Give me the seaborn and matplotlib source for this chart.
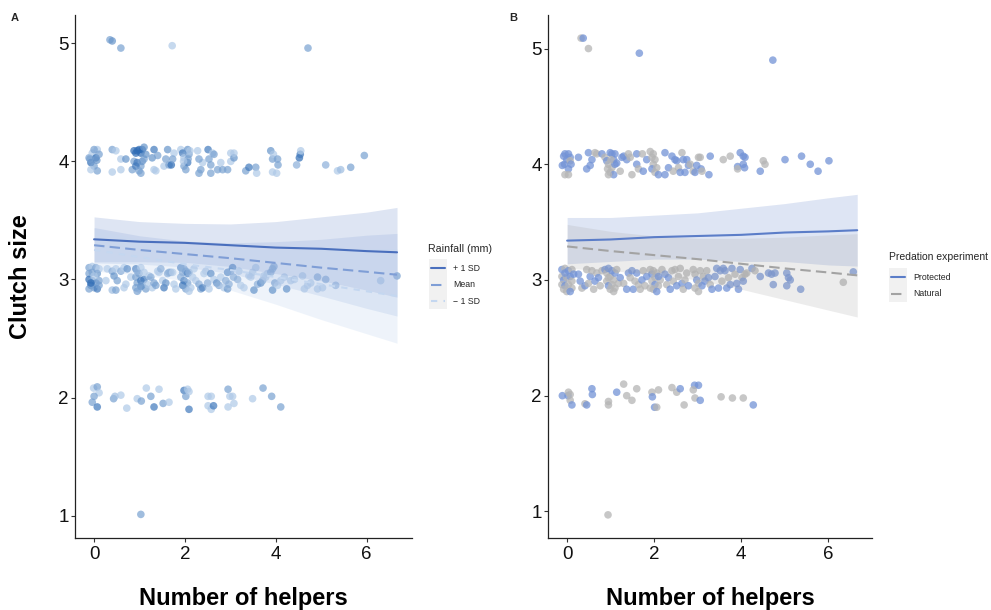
import numpy as np
import pandas as pd
import matplotlib
matplotlib.use("Agg")
import matplotlib.pyplot as plt
import seaborn as sns
from matplotlib.colors import LinearSegmentedColormap
from matplotlib.lines import Line2D
from matplotlib.patches import Rectangle
from matplotlib.legend_handler import HandlerBase

# ================= Panel A: jittered observations =================
# helpers, clutch size, rainfall shade (0 = low rainfall / light, 1 = high / dark)
a5_helpers = [0.35, 0.40, 0.59, 1.72, 4.71]
a5_clutch = [5.03, 5.02, 4.96, 4.98, 4.96]
a5_rain = [0.5, 0.6, 0.5, 0.2, 0.5]

a4_helpers = [
    -0.11, -0.07, -0.04, 0.00, 0.04, 0.07, 0.07, -0.07, 0.00, 0.11,
    0.06, -0.09, 0.40, 0.48, 0.40, 0.59, 0.70, 0.59, 0.84, 0.88,
    0.92, 0.95, 0.99, 1.03, 1.06, 1.10, 0.88, 0.95, 1.03, 1.06,
    0.92, 0.99, 1.10, 1.03, 1.14, 1.28, 1.32, 1.32, 1.36, 1.40,
    1.54, 1.58, 1.62, 1.65, 1.70, 1.76, 1.73, 1.91, 1.95, 1.98,
    2.02, 1.98, 2.06, 2.09, 2.06, 2.11, 2.07, 1.97, 2.28, 2.31,
    2.35, 2.39, 2.31, 2.51, 2.53, 2.57, 2.61, 2.57, 2.64, 2.72,
    2.79, 2.83, 2.94, 3.01, 3.01, 3.08, 3.08, 3.34, 3.41, 3.56,
    3.58, 3.89, 3.93, 3.95, 4.04, 4.05, 3.93, 4.02, 4.46, 4.52,
    4.54, 4.55, 5.10, 5.36, 5.43, 5.65, 5.95,
]
a4_clutch = [
    4.03, 3.99, 4.07, 3.96, 4.03, 4.10, 3.92, 3.93, 4.10, 4.06,
    4.01, 4.02, 4.10, 4.09, 3.91, 4.02, 4.02, 3.93, 3.93, 4.09,
    4.07, 4.09, 4.10, 4.07, 4.10, 4.12, 4.00, 3.99, 3.96, 4.00,
    3.96, 3.92, 4.02, 3.90, 4.06, 4.03, 4.10, 3.93, 3.92, 4.05,
    3.96, 4.02, 4.10, 3.97, 3.97, 4.07, 4.02, 4.10, 4.07, 3.96,
    3.93, 4.03, 4.10, 4.06, 3.99, 4.09, 4.02, 4.00, 4.09, 3.90,
    3.93, 3.99, 4.02, 4.10, 4.02, 3.97, 4.07, 3.90, 4.06, 3.93,
    3.99, 3.93, 3.93, 4.00, 4.07, 4.03, 4.07, 3.92, 3.95, 3.95,
    3.90, 4.09, 4.02, 4.06, 4.02, 3.97, 3.91, 3.90, 3.97, 4.03,
    4.06, 4.09, 3.97, 3.92, 3.93, 3.95, 4.05,
]
a4_rain = [
    0.5, 0.9, 0.2, 0.5, 0.9, 0.2, 0.5, 0.2, 0.5, 0.5,
    0.6, 0.5, 0.5, 0.2, 0.2, 0.2, 0.6, 0.2, 0.5, 0.9,
    0.9, 0.9, 0.9, 0.9, 0.9, 0.6, 0.5, 0.8, 0.5, 0.6,
    0.8, 0.5, 0.5, 0.5, 0.6, 0.6, 0.8, 0.2, 0.2, 0.5,
    0.2, 0.5, 0.6, 0.5, 0.9, 0.2, 0.5, 0.2, 0.8, 0.5,
    0.5, 0.2, 0.6, 0.5, 0.8, 0.2, 0.5, 0.2, 0.2, 0.5,
    0.5, 0.2, 0.5, 0.8, 0.5, 0.5, 0.2, 0.5, 0.5, 0.5,
    0.2, 0.5, 0.5, 0.2, 0.2, 0.6, 0.2, 0.5, 0.8, 0.5,
    0.2, 0.6, 0.5, 0.2, 0.5, 0.5, 0.2, 0.2, 0.4, 0.9,
    0.8, 0.2, 0.4, 0.2, 0.3, 0.5, 0.5,
]

a3_helpers = [
    -0.11, -0.04, 0.04, 0.11, -0.11, -0.04, 0.07, -0.11, -0.04, 0.04,
    0.11, -0.07, 0.00, 0.07, -0.11, 0.11, -0.07, 0.00, 0.26, 0.29,
    0.40, 0.44, 0.48, 0.40, 0.48, 0.51, 0.59, 0.66, 0.70, 0.66,
    0.73, 0.81, 0.92, 0.95, 1.03, 0.99, 0.92, 0.95, 1.03, 1.10,
    1.06, 0.92, 0.99, 1.14, 1.17, 1.10, 1.21, 1.03, 0.95, 1.25,
    1.28, 1.32, 1.36, 1.40, 1.43, 1.47, 1.51, 1.54, 1.58, 1.62,
    1.65, 1.69, 1.73, 1.76, 1.80, 1.91, 1.95, 1.98, 2.02, 2.06,
    2.09, 1.91, 1.98, 2.06, 1.95, 2.02, 2.13, 2.17, 2.20, 2.09,
    2.24, 2.31, 2.35, 2.39, 2.42, 2.46, 2.50, 2.53, 2.57, 2.64,
    2.70, 2.75, 2.79, 2.86, 2.90, 2.94, 2.97, 3.01, 3.05, 3.07,
    2.94, 3.16, 3.19, 3.23, 3.30, 3.41, 3.45, 3.49, 3.52, 3.56,
    3.60, 3.67, 3.71, 3.74, 3.78, 3.82, 3.89, 3.93, 3.96, 3.93,
    3.98, 4.04, 4.11, 4.19, 4.24, 4.33, 4.41, 4.59, 4.63, 4.70,
    4.77, 4.92, 4.92, 5.03, 5.10, 5.32, 6.31, 6.67,
]
a3_clutch = [
    3.10, 3.11, 3.10, 3.09, 3.05, 3.06, 3.05, 3.00, 2.99, 2.97,
    2.99, 2.95, 2.93, 2.92, 2.92, 2.95, 2.97, 3.03, 2.99, 3.09,
    3.07, 3.03, 3.09, 2.91, 2.91, 2.99, 3.07, 3.10, 2.96, 2.93,
    3.09, 3.02, 3.09, 3.07, 3.10, 3.05, 3.02, 2.97, 2.99, 3.00,
    2.95, 2.93, 2.92, 2.92, 2.96, 3.06, 3.03, 2.94, 2.90, 3.02,
    2.93, 2.97, 2.95, 3.07, 3.06, 3.09, 2.99, 2.93, 2.97, 3.05,
    3.06, 3.06, 3.06, 2.96, 2.92, 3.10, 3.06, 3.09, 3.07, 3.05,
    3.06, 3.02, 2.99, 2.97, 2.95, 2.92, 2.93, 3.02, 3.09, 2.90,
    2.99, 2.96, 2.92, 2.93, 3.05, 3.07, 2.97, 2.92, 3.05, 3.00,
    2.97, 2.95, 3.02, 2.93, 2.99, 3.06, 2.96, 3.07, 3.10, 3.02,
    2.92, 3.00, 3.07, 2.95, 2.93, 3.03, 3.02, 3.06, 2.91, 3.10,
    2.96, 2.97, 2.99, 3.03, 3.02, 3.05, 3.06, 3.09, 3.11, 2.91,
    2.97, 2.95, 2.99, 3.02, 2.92, 2.99, 3.00, 3.03, 2.92, 2.95,
    2.97, 3.02, 2.92, 2.93, 3.00, 2.95, 2.99, 3.03,
]
a3_rain = [
    0.5, 0.2, 0.5, 0.2, 0.5, 0.5, 0.6, 0.9, 0.5, 0.6,
    0.5, 0.8, 0.5, 0.8, 0.5, 0.5, 0.9, 0.2, 0.2, 0.2,
    0.5, 0.6, 0.2, 0.3, 0.5, 0.5, 0.5, 0.2, 0.2, 0.2,
    0.8, 0.2, 0.9, 0.5, 0.2, 0.5, 0.5, 0.5, 0.8, 0.8,
    0.5, 0.5, 0.2, 0.5, 0.2, 0.2, 0.2, 0.6, 0.5, 0.5,
    0.2, 0.5, 0.5, 0.2, 0.2, 0.5, 0.2, 0.8, 0.6, 0.5,
    0.5, 0.5, 0.2, 0.2, 0.2, 0.8, 0.5, 0.5, 0.6, 0.9,
    0.5, 0.5, 0.8, 0.5, 0.8, 0.5, 0.2, 0.2, 0.2, 0.2,
    0.2, 0.5, 0.5, 0.7, 0.2, 0.2, 0.5, 0.2, 0.8, 0.2,
    0.8, 0.5, 0.2, 0.2, 0.5, 0.8, 0.5, 0.5, 0.9, 0.5,
    0.6, 0.5, 0.2, 0.2, 0.2, 0.2, 0.2, 0.2, 0.8, 0.2,
    0.5, 0.8, 0.5, 0.2, 0.2, 0.2, 0.5, 0.5, 0.5, 0.8,
    0.6, 0.2, 0.2, 0.2, 0.8, 0.2, 0.2, 0.2, 0.2, 0.2,
    0.2, 0.5, 0.2, 0.2, 0.5, 0.4, 0.2, 0.5,
]

a2_helpers = [
    -0.01, 0.07, 0.11, 0.00, -0.04, 0.07, 0.43, 0.46, 0.59, 0.72,
    0.95, 1.04, 1.15, 1.25, 1.32, 1.43, 1.52, 1.65, 1.98, 2.02,
    2.06, 2.09, 2.09, 2.51, 2.58, 2.51, 2.58, 2.63, 2.95, 2.99,
    3.05, 3.08, 2.95, 3.49, 3.72, 3.91, 4.11,
]
a2_clutch = [
    2.08, 2.09, 2.04, 2.01, 1.96, 1.92, 1.99, 2.01, 2.02, 1.91,
    1.99, 1.97, 2.08, 2.01, 1.92, 2.07, 1.95, 1.96, 2.06, 2.01,
    2.07, 2.05, 1.90, 2.01, 2.01, 1.93, 1.90, 1.93, 2.07, 2.01,
    2.01, 1.95, 1.92, 1.99, 2.08, 2.01, 1.92,
]
a2_rain = [
    0.2, 0.5, 0.2, 0.5, 0.5, 0.8, 0.5, 0.3, 0.2, 0.2,
    0.2, 0.5, 0.2, 0.5, 0.8, 0.2, 0.5, 0.2, 0.8, 0.5,
    0.2, 0.2, 0.8, 0.2, 0.2, 0.2, 0.2, 0.8, 0.5, 0.2,
    0.2, 0.2, 0.2, 0.2, 0.5, 0.5, 0.5,
]

a1_helpers = [1.03]
a1_clutch = [1.01]
a1_rain = [0.5]

# Panel A model fits (rainfall at +1 SD, mean, -1 SD)
fit_x = [0, 1, 2, 3, 4, 5, 6, 6.67]
a_levels = ["+ 1 SD", "Mean", "\u2212 1 SD"]
a_fit = {
    "+ 1 SD": [3.34, 3.32, 3.31, 3.29, 3.27, 3.26, 3.24, 3.23],
    "Mean": [3.29, 3.25, 3.215, 3.18, 3.14, 3.10, 3.065, 3.04],
    "\u2212 1 SD": [3.25, 3.19, 3.13, 3.08, 3.02, 2.96, 2.90, 2.86],
}
a_upper = {
    "+ 1 SD": [3.53, 3.49, 3.475, 3.47, 3.49, 3.53, 3.57, 3.61],
    "Mean": [3.44, 3.37, 3.325, 3.31, 3.32, 3.34, 3.375, 3.39],
    "\u2212 1 SD": [3.43, 3.34, 3.27, 3.25, 3.25, 3.26, 3.26, 3.26],
}
a_lower = {
    "+ 1 SD": [3.15, 3.15, 3.145, 3.11, 3.05, 2.99, 2.91, 2.85],
    "Mean": [3.14, 3.13, 3.105, 3.05, 2.96, 2.86, 2.755, 2.69],
    "\u2212 1 SD": [3.07, 3.04, 2.99, 2.91, 2.79, 2.66, 2.54, 2.46],
}

# ================= Panel B: jittered observations =================
P, N = "Protected", "Natural"
b5_helpers = [0.32, 0.37, 0.49, 1.66, 4.73]
b5_clutch = [5.09, 5.09, 5.00, 4.96, 4.90]
b5_group = [N, P, N, P, P]

b4_helpers = [
    -0.08, -0.05, 0.03, 0.07, -0.01, -0.06, -0.11, 0.03, -0.05, 0.03,
    0.07, 0.09, 0.26, 0.45, 0.49, 0.53, 0.57, 0.64, 0.68, 0.80,
    0.87, 0.91, 0.95, 0.99, 1.03, 1.07, 0.93, 0.99, 1.03, 1.07,
    1.10, 1.10, 0.95, 1.01, 1.14, 1.22, 1.26, 1.30, 1.37, 1.41,
    1.45, 1.49, 1.60, 1.60, 1.64, 1.73, 1.75, 1.83, 1.91, 1.95,
    1.98, 2.02, 1.95, 2.02, 2.06, 2.10, 1.98, 2.25, 2.25, 2.33,
    2.41, 2.44, 2.48, 2.52, 2.56, 2.60, 2.64, 2.67, 2.75, 2.71,
    2.79, 2.83, 2.90, 2.94, 2.98, 3.02, 3.06, 3.08, 3.10, 3.29,
    3.26, 3.59, 3.75, 3.98, 4.05, 4.09, 3.92, 3.92, 4.05, 4.08,
    4.44, 4.51, 4.55, 5.01, 5.39, 5.59, 5.77, 6.02,
]
b4_clutch = [
    4.07, 4.09, 4.09, 4.06, 4.04, 4.00, 3.99, 3.96, 3.91, 3.91,
    4.03, 4.00, 4.06, 3.96, 4.10, 3.99, 4.04, 4.10, 4.09, 4.09,
    4.06, 4.03, 4.00, 4.10, 4.09, 4.04, 3.96, 3.93, 3.97, 3.91,
    4.09, 4.00, 3.91, 4.04, 4.01, 3.94, 4.06, 4.07, 4.04, 4.09,
    4.06, 3.91, 4.09, 4.00, 3.96, 4.09, 3.94, 4.04, 4.11, 4.06,
    4.00, 4.04, 3.96, 3.93, 3.97, 3.91, 4.09, 3.91, 4.10, 3.97,
    4.07, 3.94, 4.04, 4.03, 3.97, 3.93, 4.10, 4.04, 4.04, 3.93,
    3.99, 4.00, 3.94, 3.93, 3.99, 4.06, 4.06, 3.96, 3.94, 4.07,
    3.91, 4.04, 4.07, 4.10, 4.07, 4.06, 3.98, 3.96, 4.00, 3.97,
    3.94, 4.03, 4.00, 4.04, 4.07, 4.00, 3.94, 4.03,
]
b4_group = [
    P, P, P, P, P, P, P, P, N, N,
    N, P, P, P, P, P, P, N, N, P,
    N, P, N, P, P, P, N, N, N, P,
    P, P, N, N, P, N, P, P, P, N,
    N, N, P, P, N, N, P, P, N, N,
    N, N, P, N, N, P, N, P, P, P,
    P, N, P, P, N, P, N, P, P, P,
    P, N, N, P, P, N, N, P, N, P,
    P, N, N, P, P, P, P, N, P, P,
    P, N, N, P, P, P, P, P,
]

b3_helpers = [
    -0.12, -0.05, 0.03, 0.11, -0.12, -0.08, -0.01, 0.07, 0.11, -0.12,
    -0.05, 0.03, 0.11, -0.08, -0.01, 0.07, 0.15, -0.05, 0.26, 0.30,
    0.34, 0.41, 0.45, 0.49, 0.53, 0.57, 0.61, 0.64, 0.68, 0.72,
    0.76, 0.80, 0.87, 0.91, 0.95, 0.99, 1.03, 1.07, 1.10, 1.14,
    0.91, 0.95, 0.99, 1.03, 1.10, 1.18, 1.22, 1.07, 0.95, 1.30,
    1.37, 1.41, 1.45, 1.49, 1.52, 1.56, 1.60, 1.64, 1.68, 1.72,
    1.75, 1.79, 1.83, 1.91, 1.95, 1.98, 2.02, 2.06, 1.95, 2.02,
    2.10, 1.98, 2.06, 2.14, 2.18, 1.91, 2.10, 2.25, 2.29, 2.33,
    2.37, 2.41, 2.44, 2.48, 2.52, 2.56, 2.60, 2.64, 2.67, 2.71,
    2.75, 2.79, 2.90, 2.94, 2.98, 3.02, 3.06, 3.10, 3.13, 2.94,
    3.02, 3.17, 3.21, 3.25, 3.29, 3.33, 3.40, 3.44, 3.48, 3.52,
    3.56, 3.59, 3.63, 3.67, 3.71, 3.75, 3.79, 3.86, 3.90, 3.94,
    3.98, 4.02, 4.05, 4.09, 4.13, 4.25, 4.32, 4.44, 4.63, 4.70,
    4.74, 4.78, 5.05, 5.09, 5.05, 5.13, 5.37, 6.35, 6.58,
]
b3_clutch = [
    3.09, 3.10, 3.08, 3.09, 3.03, 3.00, 3.02, 3.03, 2.99, 2.96,
    2.95, 2.96, 2.93, 2.92, 2.90, 2.90, 3.05, 3.06, 3.05, 2.99,
    2.93, 2.95, 3.09, 2.97, 3.03, 3.08, 2.92, 2.99, 3.06, 3.02,
    2.95, 3.08, 3.09, 3.06, 3.10, 3.03, 3.08, 3.00, 3.06, 3.09,
    2.99, 2.95, 2.92, 2.96, 2.93, 2.97, 3.02, 2.90, 3.02, 2.97,
    2.92, 3.06, 3.02, 3.08, 2.92, 2.99, 3.06, 2.96, 2.92, 3.00,
    3.08, 2.95, 3.03, 3.09, 3.05, 3.08, 3.02, 3.06, 2.99, 2.96,
    2.95, 2.92, 2.90, 3.00, 3.09, 2.93, 3.03, 3.05, 2.96, 3.02,
    2.92, 3.08, 2.99, 3.09, 2.95, 3.03, 3.10, 2.97, 2.92, 3.00,
    3.06, 2.95, 3.09, 3.05, 3.00, 2.97, 3.08, 2.95, 3.03, 2.93,
    2.90, 2.99, 3.08, 3.02, 2.96, 2.92, 3.03, 3.10, 2.93, 3.08,
    2.99, 3.10, 3.08, 2.93, 3.02, 2.96, 3.10, 3.05, 2.97, 2.92,
    3.09, 3.02, 2.99, 3.05, 3.06, 3.10, 3.08, 3.03, 3.06, 3.05,
    2.96, 3.06, 3.06, 3.02, 2.95, 3.00, 2.92, 2.98, 3.07,
]
b3_group = [
    P, N, P, N, N, P, N, P, N, N,
    P, N, N, N, N, P, P, P, P, P,
    N, P, N, N, P, N, N, P, N, P,
    N, N, P, N, P, N, P, N, P, N,
    N, P, N, N, N, N, P, N, N, N,
    P, P, N, P, P, N, P, N, N, P,
    N, N, P, N, P, N, N, N, N, P,
    N, N, P, N, N, N, P, P, N, P,
    P, N, N, N, P, N, N, P, N, N,
    N, P, N, N, P, N, N, P, N, N,
    N, P, N, P, N, P, P, P, P, P,
    N, P, P, P, N, P, P, N, P, P,
    P, N, P, N, N, P, N, P, P, P,
    P, P, P, P, P, P, P, N, P,
]

b2_helpers = [
    -0.11, 0.02, 0.03, 0.07, 0.07, 0.11, 0.41, 0.45, 0.57, 0.58,
    0.95, 0.95, 1.14, 1.30, 1.37, 1.49, 1.60, 1.95, 1.96, 2.01,
    2.06, 2.10, 2.41, 2.52, 2.60, 2.69, 2.93, 3.02, 2.90, 2.94,
    3.06, 3.54, 3.80, 4.05, 4.28,
]
b2_clutch = [
    2.00, 2.00, 2.03, 2.01, 1.96, 1.92, 1.93, 1.92, 2.06, 2.01,
    1.95, 1.92, 2.03, 2.10, 2.00, 1.96, 2.06, 2.03, 1.99, 1.90,
    1.90, 2.05, 2.07, 2.03, 2.06, 1.92, 2.09, 2.09, 2.05, 1.98,
    1.96, 1.99, 1.98, 1.98, 1.92,
]
b2_group = [
    P, P, N, N, N, P, N, P, P, P,
    N, N, P, N, N, N, N, N, P, P,
    N, N, N, N, P, N, P, P, N, N,
    P, N, N, N, P,
]

b1_helpers = [0.94]
b1_clutch = [0.97]
b1_group = [N]

# Panel B model fits (predation treatment)
b_levels = ["Protected", "Natural"]
b_fit = {
    "Protected": [3.34, 3.35, 3.37, 3.38, 3.39, 3.41, 3.42, 3.43],
    "Natural": [3.29, 3.25, 3.215, 3.18, 3.14, 3.10, 3.065, 3.04],
}
b_upper = {
    "Protected": [3.54, 3.54, 3.56, 3.58, 3.62, 3.66, 3.71, 3.74],
    "Natural": [3.48, 3.42, 3.38, 3.36, 3.36, 3.37, 3.39, 3.40],
}
b_lower = {
    "Protected": [3.14, 3.16, 3.18, 3.18, 3.16, 3.16, 3.13, 3.12],
    "Natural": [3.10, 3.08, 3.05, 3.00, 2.92, 2.83, 2.74, 2.68],
}

x_ticks = [0, 2, 4, 6]
y_ticks = [1, 2, 3, 4, 5]

# ================= styling =================
sns.set_theme(style="white")
plt.rcParams["font.family"] = ["Liberation Sans", "DejaVu Sans"]

a_line_col = {"+ 1 SD": "#4a6fbd", "Mean": "#7f9ed6", "\u2212 1 SD": "#c4d7f0"}
a_fill_alpha = {"+ 1 SD": 0.18, "Mean": 0.2, "\u2212 1 SD": 0.28}
a_dash = {"+ 1 SD": "-", "Mean": (0, (5, 2.5)), "\u2212 1 SD": (0, (3, 3))}
b_line_col = {"Protected": "#5b7dc8", "Natural": "#a3a3a3"}
b_pt_col = {"Protected": "#7393d6", "Natural": "#b5b5b5"}
b_dash = {"Protected": "-", "Natural": (0, (5, 2.5))}
rain_cmap = LinearSegmentedColormap.from_list("rain", ["#d3e3f5", "#1d5fae"])
key_bg = "#f1f1f1"

dfA = pd.concat([
    pd.DataFrame({"helpers": h, "clutch": c, "rain": r})
    for h, c, r in [(a5_helpers, a5_clutch, a5_rain), (a4_helpers, a4_clutch, a4_rain),
                    (a3_helpers, a3_clutch, a3_rain), (a2_helpers, a2_clutch, a2_rain),
                    (a1_helpers, a1_clutch, a1_rain)]
], ignore_index=True)
dfB = pd.concat([
    pd.DataFrame({"helpers": h, "clutch": c, "group": g})
    for h, c, g in [(b5_helpers, b5_clutch, b5_group), (b4_helpers, b4_clutch, b4_group),
                    (b3_helpers, b3_clutch, b3_group), (b2_helpers, b2_clutch, b2_group),
                    (b1_helpers, b1_clutch, b1_group)]
], ignore_index=True)

fig = plt.figure(figsize=(9.91, 6.10), dpi=100)
axA = fig.add_axes([75 / 991, 1 - 538 / 610, 337 / 991, 523 / 610])
axB = fig.add_axes([548 / 991, 1 - 538 / 610, 324 / 991, 523 / 610])

sns.scatterplot(data=dfA, x="helpers", y="clutch", hue="rain", palette=rain_cmap,
                hue_norm=(0, 1), s=30, alpha=0.7, linewidth=0, legend=False,
                ax=axA, zorder=2)
for lev in a_levels:
    axA.fill_between(fit_x, a_lower[lev], a_upper[lev], color=a_line_col[lev],
                     alpha=a_fill_alpha[lev], linewidth=0, zorder=3)
for lev in a_levels:
    sns.lineplot(x=fit_x, y=a_fit[lev], ax=axA, color=a_line_col[lev], lw=1.5,
                 linestyle=a_dash[lev], zorder=4)

sns.scatterplot(data=dfB, x="helpers", y="clutch", hue="group", palette=b_pt_col,
                s=30, alpha=0.75, linewidth=0, legend=False, ax=axB, zorder=2)
for lev in b_levels:
    axB.fill_between(fit_x, b_lower[lev], b_upper[lev], color=b_line_col[lev],
                     alpha=0.2, linewidth=0, zorder=3)
for lev in b_levels:
    sns.lineplot(x=fit_x, y=b_fit[lev], ax=axB, color=b_line_col[lev], lw=1.5,
                 linestyle=b_dash[lev], zorder=4)

for ax, xl, yl in [(axA, (-0.42, 7.0), (0.81, 5.24)), (axB, (-0.44, 7.01), (0.77, 5.29))]:
    ax.set_xlim(*xl)
    ax.set_ylim(*yl)
    ax.set_xticks(x_ticks)
    ax.set_yticks(y_ticks)
    ax.set_xlabel("")
    ax.set_ylabel("")
    for s in ["top", "right"]:
        ax.spines[s].set_visible(False)
    for s in ["left", "bottom"]:
        ax.spines[s].set_color("#222222")
        ax.spines[s].set_linewidth(0.9)
    ax.tick_params(axis="both", which="both", length=3, width=0.8, color="#333333",
                   labelsize=13.5, labelcolor="#111111", direction="out",
                   bottom=True, left=True)
    ax.tick_params(axis="x", pad=3)
    ax.tick_params(axis="y", pad=1.5)
    ax.grid(False)

# axis titles
fig.text(21 / 991, 1 - 277 / 610, "Clutch size", rotation=90, ha="center", va="center",
         fontsize=17, fontweight="bold", color="black")
fig.text(243 / 991, 1 - 605 / 610, "Number of helpers", ha="center", va="baseline",
         fontsize=17, fontweight="bold", color="black")
fig.text(710 / 991, 1 - 605 / 610, "Number of helpers", ha="center", va="baseline",
         fontsize=17, fontweight="bold", color="black")

# panel tags
fig.text(11 / 991, 1 - 18 / 610, "A", ha="left", va="center", fontsize=8, fontweight="bold")
fig.text(509 / 991, 1 - 18 / 610, "B", ha="left", va="center", fontsize=8, fontweight="bold")


# ---- legends with ggplot-like grey key boxes ----
class LegendKey:
    def __init__(self, color, ls):
        self.color = color
        self.ls = ls


class KeyHandler(HandlerBase):
    def create_artists(self, legend, orig_handle, xdescent, ydescent, width, height,
                       fontsize, trans):
        yc = 0.33 * fontsize
        rect = Rectangle((-xdescent, yc - height / 2), width, height + 0.3,
                         facecolor=key_bg, edgecolor="none", transform=trans)
        line = Line2D([-xdescent + 0.1 * width, -xdescent + 0.9 * width], [yc, yc],
                      color=orig_handle.color, lw=1.5, linestyle=orig_handle.ls,
                      transform=trans)
        return [rect, line]


leg_kw = dict(loc="upper left", frameon=False, fontsize=6.3,
              handlelength=2.0, handleheight=2.53, labelspacing=0.0, handletextpad=0.75,
              borderpad=0, borderaxespad=0, handler_map={LegendKey: KeyHandler()})

fig.text(428 / 991, 1 - 249 / 610, "Rainfall (mm)", ha="left", va="center", fontsize=7.7)
fig.legend([LegendKey(a_line_col[l], a_dash[l]) for l in a_levels], a_levels,
           bbox_to_anchor=(429 / 991, 1 - 260 / 610), **leg_kw)

fig.text(889 / 991, 1 - 257 / 610, "Predation experiment", ha="left", va="center",
         fontsize=7.5)
fig.legend([LegendKey(b_line_col[l], b_dash[l]) for l in b_levels], b_levels,
           bbox_to_anchor=(889 / 991, 1 - 269 / 610), **leg_kw)

fig.savefig("out.png", dpi=100, facecolor="white")
